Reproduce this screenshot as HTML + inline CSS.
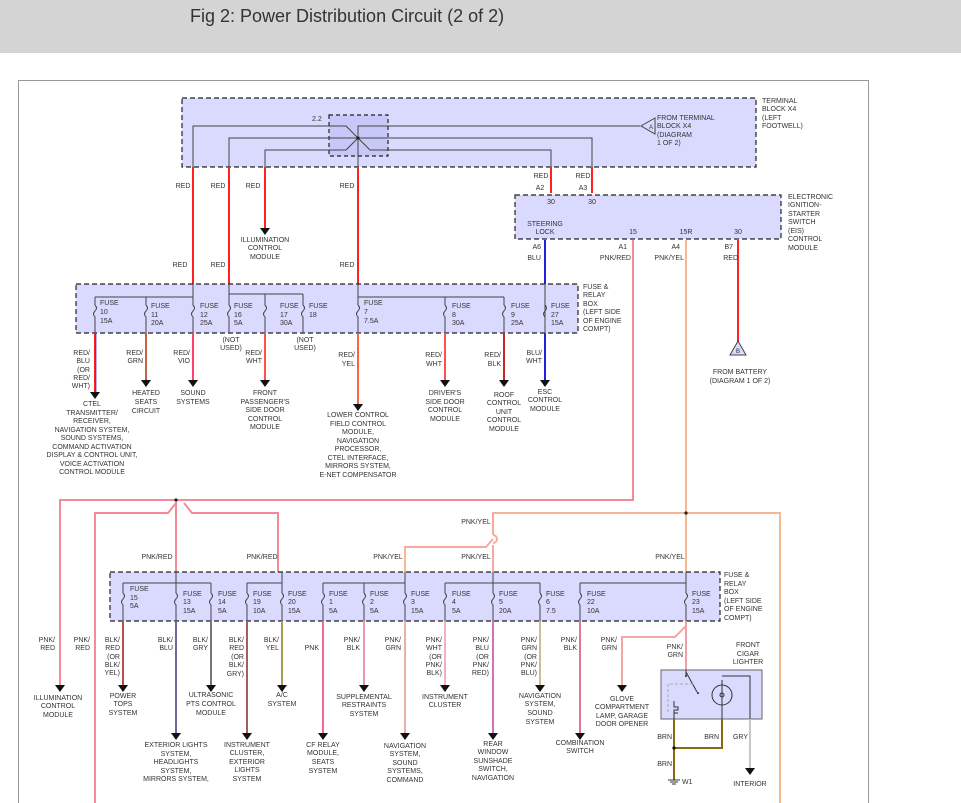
<!DOCTYPE html>
<html><head><meta charset="utf-8"><style>
body{margin:0;background:#fff;width:961px;height:803px;overflow:hidden}
svg{display:block}
text{font-family:"Liberation Sans",sans-serif;font-size:7px;fill:#333}
.m{text-anchor:middle}.e{text-anchor:end}
.box{fill:#dadaff;stroke:#222;stroke-width:1.2;stroke-dasharray:5,3}
.bl{stroke:#444;stroke-width:1;fill:none}
.hop{stroke:#555;stroke-width:0.8;fill:none}
</style></head><body>
<svg width="961" height="803" viewBox="0 0 961 803" xmlns="http://www.w3.org/2000/svg">
<rect x="0" y="0" width="961" height="53" fill="#d4d4d4"/>
<text x="190" y="22" style="font-size:18px;fill:#333">Fig 2: Power Distribution Circuit (2 of 2)</text>
<rect x="18.5" y="80.5" width="850" height="730" fill="#fff" stroke="#999"/>

<!-- Terminal block -->
<rect class="box" x="182" y="98" width="574" height="69"/>
<rect x="329" y="115" width="59" height="41" fill="#c8c8f8" stroke="#222" stroke-width="1.2" stroke-dasharray="4,3"/>
<text x="312" y="121">2.2</text>
<path class="bl" d="M193,167V126H346L358,138M358,167V126H640M229,167V138H592V167M265,167V150H346L358,138L370,150H551V167"/>
<circle cx="358" cy="138" r="1.6" fill="#222"/>
<path d="M655,118L641,126L655,134Z" fill="#dadaff" stroke="#444"/>
<text x="649" y="129" style="font-size:6px">A</text>
<text x="657" y="120">FROM TERMINAL</text><text x="657" y="128">BLOCK X4</text><text x="657" y="137">(DIAGRAM</text><text x="657" y="145">1 OF 2)</text>
<text x="762" y="103">TERMINAL</text><text x="762" y="111">BLOCK X4</text><text x="762" y="120">(LEFT</text><text x="762" y="128">FOOTWELL)</text>

<g stroke="#ff2020" stroke-width="2" fill="none">
<path d="M193,167V284M229,167V284M265,167V228M358,167V284M551,167V193M592,167V193M738,240V345"/>
</g>
<path d="M260,228h10l-5,7z" fill="#111"/>
<text x="183" y="188" class="m">RED</text><text x="218" y="188" class="m">RED</text><text x="253" y="188" class="m">RED</text><text x="347" y="188" class="m">RED</text>
<text x="180" y="267" class="m">RED</text><text x="218" y="267" class="m">RED</text><text x="347" y="267" class="m">RED</text>
<text x="265" y="242" class="m">ILLUMINATION</text><text x="265" y="250" class="m">CONTROL</text><text x="265" y="259" class="m">MODULE</text>
<text x="541" y="178" class="m">RED</text><text x="583" y="178" class="m">RED</text>
<text x="540" y="190" class="m">A2</text><text x="583" y="190" class="m">A3</text>

<!-- EIS -->
<rect class="box" x="515" y="195" width="266" height="44"/>
<text x="551" y="204" class="m">30</text><text x="592" y="204" class="m">30</text>
<text x="545" y="226" class="m">STEERING</text><text x="545" y="234" class="m">LOCK</text>
<text x="633" y="234" class="m">15</text><text x="686" y="234" class="m">15R</text><text x="738" y="234" class="m">30</text>
<text x="788" y="199">ELECTRONIC</text><text x="788" y="207">IGNITION-</text><text x="788" y="216">STARTER</text><text x="788" y="224">SWITCH</text><text x="788" y="233">(EIS)</text><text x="788" y="241">CONTROL</text><text x="788" y="250">MODULE</text>
<text x="541" y="249" class="e">A6</text><text x="627" y="249" class="e">A1</text><text x="680" y="249" class="e">A4</text><text x="733" y="249" class="e">B7</text>
<text x="541" y="260" class="e">BLU</text><text x="631" y="260" class="e">PNK/RED</text><text x="684" y="260" class="e">PNK/YEL</text><text x="738" y="260" class="e">RED</text>
<path d="M545,240V284" stroke="#2020e0" stroke-width="2"/>
<path d="M730,355L738,341L746,355Z" fill="#dadaff" stroke="#444"/>
<text x="738" y="353" class="m" style="font-size:6px">B</text>
<text x="740" y="374" class="m">FROM BATTERY</text><text x="740" y="383" class="m">(DIAGRAM 1 OF 2)</text>

<!-- pink buses -->
<g fill="none" stroke-width="2">
<path d="M633,240V500H60V687" stroke="#f48a98"/>
<path d="M95,803V513H168L176,503V572M184,503L192,513H278V572" stroke="#f48a98"/>
<path d="M686,240V572M493,572V545M493,535V513H780V803M493,535a4,4 0 0 1 0,8" stroke="#f7a9a0"/>
<path d="M405,572V547H486L493,539" stroke="#f7a9a0"/>
</g>
<path d="M686,240V572M493,513H780V803M405,572V547" stroke="#f3e070" stroke-width="0.6" fill="none"/>
<circle cx="176" cy="500" r="1.6" fill="#222"/><circle cx="686" cy="513" r="1.6" fill="#222"/>
<text x="157" y="559" class="m">PNK/RED</text><text x="262" y="559" class="m">PNK/RED</text><text x="388" y="559" class="m">PNK/YEL</text><text x="476" y="559" class="m">PNK/YEL</text><text x="670" y="559" class="m">PNK/YEL</text><text x="476" y="524" class="m">PNK/YEL</text>

<!-- Upper fuse box -->
<rect class="box" x="76" y="284" width="502" height="49"/>
<text x="583" y="289">FUSE &amp;</text><text x="583" y="297">RELAY</text><text x="583" y="306">BOX</text><text x="583" y="314">(LEFT SIDE</text><text x="583" y="323">OF ENGINE</text><text x="583" y="331">COMPT)</text>
<path class="bl" d="M95,297H193V284M229,284V294H303M358,284V297H504M545,284V333"/>
<g class="bl">
<path d="M95,297V305q3,3 0,6q-3,3 0,6V333"/><path d="M146,297V305q3,3 0,6q-3,3 0,6V333"/><path d="M193,297V305q3,3 0,6q-3,3 0,6V333"/>
<path d="M229,294V305q3,3 0,6q-3,3 0,6V333"/><path d="M265,294V305q3,3 0,6q-3,3 0,6V333"/><path d="M303,294V305q3,3 0,6q-3,3 0,6V333"/>
<path d="M358,297V305q3,3 0,6q-3,3 0,6V333"/><path d="M445,297V305q3,3 0,6q-3,3 0,6V333"/><path d="M504,297V305q3,3 0,6q-3,3 0,6V333"/>
<path d="M545,305q3,3 0,6q-3,3 0,6"/>
</g>
<g>
<text x="100" y="305">FUSE</text><text x="100" y="314">10</text><text x="100" y="323">15A</text>
<text x="151" y="308">FUSE</text><text x="151" y="317">11</text><text x="151" y="325">20A</text>
<text x="200" y="308">FUSE</text><text x="200" y="317">12</text><text x="200" y="325">25A</text>
<text x="234" y="308">FUSE</text><text x="234" y="317">16</text><text x="234" y="325">5A</text>
<text x="280" y="308">FUSE</text><text x="280" y="317">17</text><text x="280" y="325">30A</text>
<text x="309" y="308">FUSE</text><text x="309" y="317">18</text>
<text x="364" y="305">FUSE</text><text x="364" y="314">7</text><text x="364" y="323">7.5A</text>
<text x="452" y="308">FUSE</text><text x="452" y="317">8</text><text x="452" y="325">30A</text>
<text x="511" y="308">FUSE</text><text x="511" y="317">9</text><text x="511" y="325">25A</text>
<text x="551" y="308">FUSE</text><text x="551" y="317">27</text><text x="551" y="325">15A</text>
</g>
<text x="231" y="342" class="m">(NOT</text><text x="231" y="350" class="m">USED)</text>
<text x="305" y="342" class="m">(NOT</text><text x="305" y="350" class="m">USED)</text>
<g stroke-width="2" fill="none">
<path d="M95,333V392" stroke="#ff2020"/><path d="M96,333V392" stroke="#2020e0" stroke-width="0.7"/>
<path d="M146,333V380" stroke="#e84040"/><path d="M146,333V380" stroke="#70b050" stroke-width="0.6"/>
<path d="M193,333V380" stroke="#ff4070"/>
<path d="M265,333V380" stroke="#ff5050"/>
<path d="M358,333V404" stroke="#ff3030"/><path d="M358,333V404" stroke="#f0e060" stroke-width="0.6"/>
<path d="M445,333V380" stroke="#ff5050"/>
<path d="M504,333V380" stroke="#ff2020"/><path d="M504,333V380" stroke="#333" stroke-width="0.5"/>
<path d="M545,333V380" stroke="#2020e0"/>
</g>
<g fill="#111">
<path d="M90,392h10l-5,7z"/><path d="M141,380h10l-5,7z"/><path d="M188,380h10l-5,7z"/><path d="M260,380h10l-5,7z"/><path d="M353,404h10l-5,7z"/><path d="M440,380h10l-5,7z"/><path d="M499,380h10l-5,7z"/><path d="M540,380h10l-5,7z"/>
</g>
<text x="90" y="355" class="e">RED/</text><text x="90" y="363" class="e">BLU</text><text x="90" y="372" class="e">(OR</text><text x="90" y="380" class="e">RED/</text><text x="90" y="388" class="e">WHT)</text>
<text x="143" y="355" class="e">RED/</text><text x="143" y="363" class="e">GRN</text>
<text x="190" y="355" class="e">RED/</text><text x="190" y="363" class="e">VIO</text>
<text x="262" y="355" class="e">RED/</text><text x="262" y="363" class="e">WHT</text>
<text x="355" y="357" class="e">RED/</text><text x="355" y="366" class="e">YEL</text>
<text x="442" y="357" class="e">RED/</text><text x="442" y="366" class="e">WHT</text>
<text x="501" y="357" class="e">RED/</text><text x="501" y="366" class="e">BLK</text>
<text x="542" y="355" class="e">BLU/</text><text x="542" y="363" class="e">WHT</text>
<g>
<text x="92" y="406" class="m">CTEL</text><text x="92" y="415" class="m">TRANSMITTER/</text><text x="92" y="423" class="m">RECEIVER,</text><text x="92" y="432" class="m">NAVIGATION SYSTEM,</text><text x="92" y="440" class="m">SOUND SYSTEMS,</text><text x="92" y="449" class="m">COMMAND ACTIVATION</text><text x="92" y="457" class="m">DISPLAY &amp; CONTROL UNIT,</text><text x="92" y="466" class="m">VOICE ACTIVATION</text><text x="92" y="474" class="m">CONTROL MODULE</text>
<text x="146" y="395" class="m">HEATED</text><text x="146" y="404" class="m">SEATS</text><text x="146" y="413" class="m">CIRCUIT</text>
<text x="193" y="395" class="m">SOUND</text><text x="193" y="404" class="m">SYSTEMS</text>
<text x="265" y="395" class="m">FRONT</text><text x="265" y="404" class="m">PASSENGER'S</text><text x="265" y="412" class="m">SIDE DOOR</text><text x="265" y="421" class="m">CONTROL</text><text x="265" y="429" class="m">MODULE</text>
<text x="358" y="417" class="m">LOWER CONTROL</text><text x="358" y="426" class="m">FIELD CONTROL</text><text x="358" y="434" class="m">MODULE,</text><text x="358" y="443" class="m">NAVIGATION</text><text x="358" y="451" class="m">PROCESSOR,</text><text x="358" y="460" class="m">CTEL INTERFACE,</text><text x="358" y="468" class="m">MIRRORS SYSTEM,</text><text x="358" y="477" class="m">E-NET COMPENSATOR</text>
<text x="445" y="395" class="m">DRIVER'S</text><text x="445" y="404" class="m">SIDE DOOR</text><text x="445" y="412" class="m">CONTROL</text><text x="445" y="421" class="m">MODULE</text>
<text x="504" y="397" class="m">ROOF</text><text x="504" y="405" class="m">CONTROL</text><text x="504" y="414" class="m">UNIT</text><text x="504" y="422" class="m">CONTROL</text><text x="504" y="431" class="m">MODULE</text>
<text x="545" y="394" class="m">ESC</text><text x="545" y="402" class="m">CONTROL</text><text x="545" y="411" class="m">MODULE</text>
</g>

<!-- Lower fuse box -->
<rect class="box" x="110" y="572" width="610" height="49"/>
<text x="724" y="577">FUSE &amp;</text><text x="724" y="586">RELAY</text><text x="724" y="594">BOX</text><text x="724" y="603">(LEFT SIDE</text><text x="724" y="611">OF ENGINE</text><text x="724" y="620">COMPT)</text>
<path class="bl" d="M123,583H211M176,572V583M247,583H282V572M323,583H405V572M445,583H540M493,572V583M580,583H686V572"/>
<g class="bl">
<path d="M123,583V593q3,3 0,6q-3,3 0,6V621"/><path d="M176,583V593q3,3 0,6q-3,3 0,6V621"/><path d="M211,583V593q3,3 0,6q-3,3 0,6V621"/>
<path d="M247,583V593q3,3 0,6q-3,3 0,6V621"/><path d="M282,583V593q3,3 0,6q-3,3 0,6V621"/><path d="M323,583V593q3,3 0,6q-3,3 0,6V621"/>
<path d="M364,583V593q3,3 0,6q-3,3 0,6V621"/><path d="M405,583V593q3,3 0,6q-3,3 0,6V621"/><path d="M445,583V593q3,3 0,6q-3,3 0,6V621"/>
<path d="M493,583V593q3,3 0,6q-3,3 0,6V621"/><path d="M540,583V593q3,3 0,6q-3,3 0,6V621"/><path d="M580,583V593q3,3 0,6q-3,3 0,6V621"/>
<path d="M686,583V593q3,3 0,6q-3,3 0,6V621"/>
</g>
<g>
<text x="130" y="591">FUSE</text><text x="130" y="600">15</text><text x="130" y="608">5A</text>
<text x="183" y="596">FUSE</text><text x="183" y="604">13</text><text x="183" y="613">15A</text>
<text x="218" y="596">FUSE</text><text x="218" y="604">14</text><text x="218" y="613">5A</text>
<text x="253" y="596">FUSE</text><text x="253" y="604">19</text><text x="253" y="613">10A</text>
<text x="288" y="596">FUSE</text><text x="288" y="604">20</text><text x="288" y="613">15A</text>
<text x="329" y="596">FUSE</text><text x="329" y="604">1</text><text x="329" y="613">5A</text>
<text x="370" y="596">FUSE</text><text x="370" y="604">2</text><text x="370" y="613">5A</text>
<text x="411" y="596">FUSE</text><text x="411" y="604">3</text><text x="411" y="613">15A</text>
<text x="452" y="596">FUSE</text><text x="452" y="604">4</text><text x="452" y="613">5A</text>
<text x="499" y="596">FUSE</text><text x="499" y="604">5</text><text x="499" y="613">20A</text>
<text x="546" y="596">FUSE</text><text x="546" y="604">6</text><text x="546" y="613">7.5</text>
<text x="587" y="596">FUSE</text><text x="587" y="604">22</text><text x="587" y="613">10A</text>
<text x="692" y="596">FUSE</text><text x="692" y="604">23</text><text x="692" y="613">15A</text>
</g>
<g stroke-width="2" fill="none">
<path d="M123,621V685" stroke="#b05050"/>
<path d="M176,621V733" stroke="#6a6a9a"/>
<path d="M211,621V685" stroke="#777"/>
<path d="M247,621V733" stroke="#a06060"/>
<path d="M282,621V685" stroke="#a0a050"/>
<path d="M323,621V733" stroke="#f06c90"/>
<path d="M364,621V685" stroke="#e898a8"/>
<path d="M405,621V733" stroke="#e8b0a8"/>
<path d="M445,621V685" stroke="#f4b0c0"/>
<path d="M493,621V733" stroke="#d070c0"/>
<path d="M540,621V685" stroke="#c8c090"/>
<path d="M580,621V733" stroke="#e07890"/>
<path d="M686,621V626L675,637H622V685" stroke="#f0a8a0"/>
<path d="M686,621V670" stroke="#f0a0a8"/>
</g>
<g fill="#111">
<path d="M55,685h10l-5,7z"/><path d="M118,685h10l-5,7z"/><path d="M171,733h10l-5,7z"/><path d="M206,685h10l-5,7z"/><path d="M242,733h10l-5,7z"/><path d="M277,685h10l-5,7z"/><path d="M318,733h10l-5,7z"/><path d="M359,685h10l-5,7z"/><path d="M400,733h10l-5,7z"/><path d="M440,685h10l-5,7z"/><path d="M488,733h10l-5,7z"/><path d="M535,685h10l-5,7z"/><path d="M575,733h10l-5,7z"/><path d="M617,685h10l-5,7z"/><path d="M745,768h10l-5,7z"/>
</g>
<g>
<text x="55" y="642" class="e">PNK/</text><text x="55" y="650" class="e">RED</text>
<text x="90" y="642" class="e">PNK/</text><text x="90" y="650" class="e">RED</text>
<text x="120" y="642" class="e">BLK/</text><text x="120" y="650" class="e">RED</text><text x="120" y="659" class="e">(OR</text><text x="120" y="667" class="e">BLK/</text><text x="120" y="675" class="e">YEL)</text>
<text x="173" y="642" class="e">BLK/</text><text x="173" y="650" class="e">BLU</text>
<text x="208" y="642" class="e">BLK/</text><text x="208" y="650" class="e">GRY</text>
<text x="244" y="642" class="e">BLK/</text><text x="244" y="650" class="e">RED</text><text x="244" y="659" class="e">(OR</text><text x="244" y="667" class="e">BLK/</text><text x="244" y="676" class="e">GRY)</text>
<text x="279" y="642" class="e">BLK/</text><text x="279" y="650" class="e">YEL</text>
<text x="319" y="650" class="e">PNK</text>
<text x="360" y="642" class="e">PNK/</text><text x="360" y="650" class="e">BLK</text>
<text x="401" y="642" class="e">PNK/</text><text x="401" y="650" class="e">GRN</text>
<text x="442" y="642" class="e">PNK/</text><text x="442" y="650" class="e">WHT</text><text x="442" y="659" class="e">(OR</text><text x="442" y="667" class="e">PNK/</text><text x="442" y="675" class="e">BLK)</text>
<text x="489" y="642" class="e">PNK/</text><text x="489" y="650" class="e">BLU</text><text x="489" y="659" class="e">(OR</text><text x="489" y="667" class="e">PNK/</text><text x="489" y="675" class="e">RED)</text>
<text x="537" y="642" class="e">PNK/</text><text x="537" y="650" class="e">GRN</text><text x="537" y="659" class="e">(OR</text><text x="537" y="667" class="e">PNK/</text><text x="537" y="675" class="e">BLU)</text>
<text x="577" y="642" class="e">PNK/</text><text x="577" y="650" class="e">BLK</text>
<text x="617" y="642" class="e">PNK/</text><text x="617" y="650" class="e">GRN</text>
<text x="683" y="649" class="e">PNK/</text><text x="683" y="657" class="e">GRN</text>
</g>
<g>
<text x="58" y="700" class="m">ILLUMINATION</text><text x="58" y="708" class="m">CONTROL</text><text x="58" y="717" class="m">MODULE</text>
<text x="123" y="698" class="m">POWER</text><text x="123" y="706" class="m">TOPS</text><text x="123" y="715" class="m">SYSTEM</text>
<text x="176" y="747" class="m">EXTERIOR LIGHTS</text><text x="176" y="756" class="m">SYSTEM,</text><text x="176" y="764" class="m">HEADLIGHTS</text><text x="176" y="773" class="m">SYSTEM,</text><text x="176" y="781" class="m">MIRRORS SYSTEM,</text>
<text x="211" y="697" class="m">ULTRASONIC</text><text x="211" y="706" class="m">PTS CONTROL</text><text x="211" y="715" class="m">MODULE</text>
<text x="247" y="747" class="m">INSTRUMENT</text><text x="247" y="755" class="m">CLUSTER,</text><text x="247" y="764" class="m">EXTERIOR</text><text x="247" y="772" class="m">LIGHTS</text><text x="247" y="781" class="m">SYSTEM</text>
<text x="282" y="697" class="m">A/C</text><text x="282" y="706" class="m">SYSTEM</text>
<text x="323" y="747" class="m">CF RELAY</text><text x="323" y="755" class="m">MODULE,</text><text x="323" y="764" class="m">SEATS</text><text x="323" y="773" class="m">SYSTEM</text>
<text x="364" y="699" class="m">SUPPLEMENTAL</text><text x="364" y="707" class="m">RESTRAINTS</text><text x="364" y="716" class="m">SYSTEM</text>
<text x="405" y="748" class="m">NAVIGATION</text><text x="405" y="756" class="m">SYSTEM,</text><text x="405" y="765" class="m">SOUND</text><text x="405" y="773" class="m">SYSTEMS,</text><text x="405" y="782" class="m">COMMAND</text>
<text x="445" y="699" class="m">INSTRUMENT</text><text x="445" y="707" class="m">CLUSTER</text>
<text x="493" y="746" class="m">REAR</text><text x="493" y="754" class="m">WINDOW</text><text x="493" y="763" class="m">SUNSHADE</text><text x="493" y="771" class="m">SWITCH,</text><text x="493" y="780" class="m">NAVIGATION</text>
<text x="540" y="698" class="m">NAVIGATION</text><text x="540" y="706" class="m">SYSTEM,</text><text x="540" y="715" class="m">SOUND</text><text x="540" y="724" class="m">SYSTEM</text>
<text x="580" y="745" class="m">COMBINATION</text><text x="580" y="753" class="m">SWITCH</text>
<text x="622" y="701" class="m">GLOVE</text><text x="622" y="709" class="m">COMPARTMENT</text><text x="622" y="718" class="m">LAMP, GARAGE</text><text x="622" y="726" class="m">DOOR OPENER</text>
</g>
<text x="748" y="647" class="m">FRONT</text><text x="748" y="656" class="m">CIGAR</text><text x="748" y="664" class="m">LIGHTER</text>
<rect x="661" y="670" width="101" height="49" fill="#dadaff" stroke="#666"/>
<path d="M686,672L697,692" stroke="#333" fill="none"/><circle cx="686" cy="676" r="1" fill="#222"/><circle cx="698" cy="693" r="1" fill="#222"/>
<path d="M686,670V676" stroke="#333"/>
<path d="M693,684H668V712" stroke="#aaa" stroke-dasharray="3,2" fill="none"/>
<path d="M674,701v6h4v3h-4v3h4M674,713V719" stroke="#333" fill="none"/>
<circle cx="722" cy="695" r="10" fill="none" stroke="#333"/><circle cx="722" cy="695" r="2" fill="none" stroke="#333"/>
<path d="M722,680V719M722,676H750V719" stroke="#333" fill="none"/>
<g stroke-width="2" fill="none">
<path d="M674,719V780M674,748H722V719" stroke="#8a6a10"/>
<path d="M750,719V768" stroke="#c8c8c8"/>
</g>
<circle cx="674" cy="748" r="1.6" fill="#111"/>
<text x="672" y="739" class="e">BRN</text><text x="719" y="739" class="e">BRN</text><text x="748" y="739" class="e">GRY</text><text x="672" y="766" class="e">BRN</text>
<path d="M668,780h12M670,782h8M672,784h4" stroke="#333"/>
<text x="682" y="784">W1</text><text x="750" y="786" class="m">INTERIOR</text>
</svg>
</body></html>
